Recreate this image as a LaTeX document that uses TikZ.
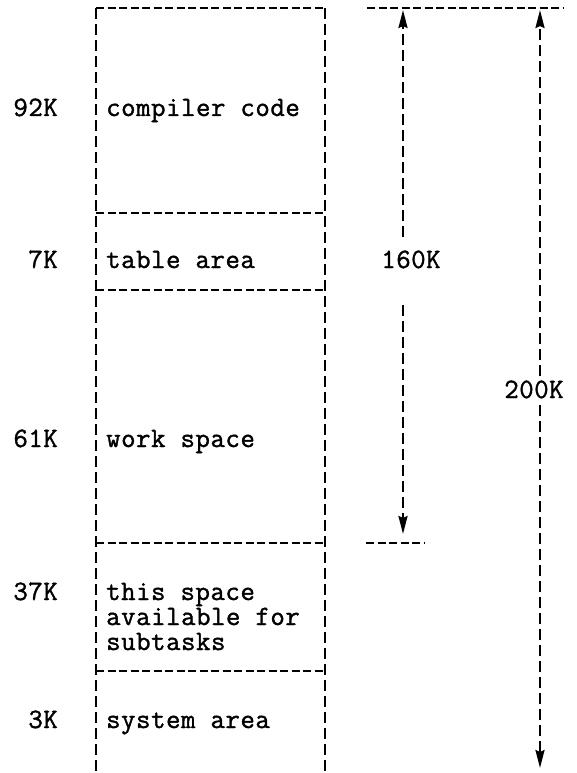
\documentclass[tikz,border=0pt]{standalone}
\usepackage{fontspec}
\setmonofont[LetterSpace=2,FakeBold=1.3]{Latin Modern Mono}
\usetikzlibrary{arrows.meta}
\begin{document}
\begin{tikzpicture}[x=1pt,y=-1pt,
  txt/.style={font=\fontsize{28}{25}\selectfont\ttfamily, inner sep=0pt},
  lbl/.style={txt, anchor=base west},
  size/.style={txt, anchor=base east},
  vline/.style={line width=2.4pt, dash pattern=on 11pt off 5pt},
  hline/.style={line width=2.2pt, dash pattern=on 8pt off 3.5pt},
  dim/.style={line width=2.4pt, dash pattern=on 11pt off 5pt,
    -{Stealth[length=18pt,width=9pt,inset=2pt]}}]
\useasboundingbox (0,0) rectangle (576,773);

% storage map outline
\coordinate (tl) at (96,8);
\coordinate (tr) at (325,8);
\coordinate (bl) at (96,773);
\coordinate (br) at (325,773);
\draw[hline] (tl) -- (tr);
\draw[vline] (tl) -- (bl);
\draw[vline] (tr) -- (br);

% region boundaries
\foreach \n/\y in {a/213,b/290,c/543,d/671}{
  \coordinate (\n l) at (96,\y);
  \coordinate (\n r) at (325,\y);
  \draw[hline] (\n l) -- (\n r);
}

% region contents (the multi-line label is placed by its last baseline)
\node[lbl] (cc) at (106,116) {compiler code};
\node[lbl] (ta) at (106,268) {table area};
\node[lbl] (ws) at (106,447) {work space};
\node[lbl, align=left] (ts) at (106,650) {this space\\available for\\subtasks};
\node[lbl] (sa) at (106,728) {system area};

% region sizes
\node[size] (k92) at (58,116) {92K};
\node[size] (k7) at (58,268) {7K};
\node[size] (k61) at (58,447) {61K};
\node[size] (k37) at (58,600) {37K};
\node[size] (k3) at (58,728) {3K};

% overall extents
\coordinate (topl) at (367,8);
\coordinate (topr) at (563,8);
\draw[hline] (topl) -- (topr);
\coordinate (midl) at (366,543);
\coordinate (midr) at (424,543);
\draw[hline] (midl) -- (midr);

\coordinate (a160t) at (403,10);
\coordinate (a160b) at (403,534);
\node[txt, anchor=base] (l160) at (411,268) {160K};
\draw[dim] (403,237) -- (a160t);
\draw[dim] (403,305) -- (a160b);

\coordinate (a200t) at (540,10);
\coordinate (a200b) at (540,768);
\node[txt, anchor=base] (l200) at (534,398) {200K};
\draw[dim] (l200.north -| a200t) ++(0,-4) -- (a200t);
\draw[dim] (l200.south -| a200b) ++(0,6) -- (a200b);
\end{tikzpicture}
\end{document}
